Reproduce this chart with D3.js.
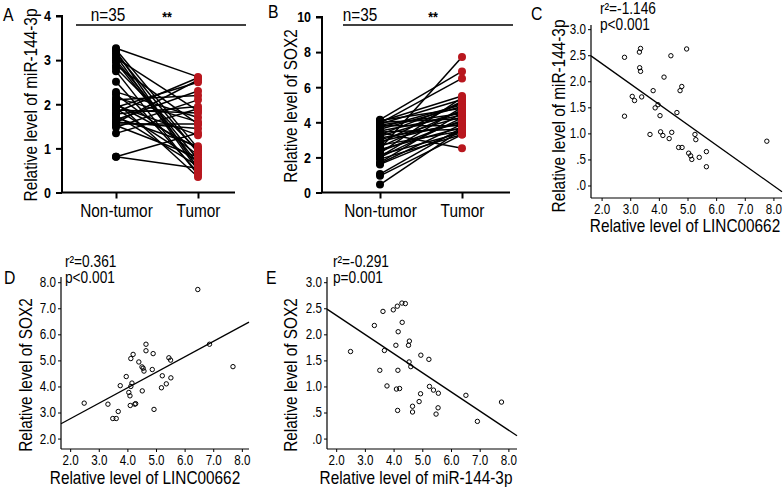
<!DOCTYPE html>
<html><head><meta charset="utf-8">
<script src="https://cdn.jsdelivr.net/npm/d3@7"></script>
<style>body{margin:0;background:#fff}svg{display:block}</style>
</head><body>
<svg id="fig" width="784" height="487"></svg>
<script>
// ---------- DATA ----------
const pairCategories = ["Non-tumor", "Tumor"];
const aTicks = [0, 1, 2, 3, 4];
const aNonTumor = [3.27,3.24,3.2,3.15,3.1,3.05,3.0,2.95,2.88,2.82,2.75,2.51,2.28,2.22,2.15,2.1,2.05,2.0,1.97,1.93,1.9,1.87,1.82,1.78,1.75,1.7,1.65,1.6,1.58,1.55,1.52,1.48,1.34,0.81,0.81];
const aTumor    = [2.62,1.0,0.55,0.9,0.5,1.85,0.75,0.65,1.55,0.95,0.4,0.45,1.7,0.85,1.6,2.2,0.35,1.0,1.3,2.5,0.7,1.8,2.6,1.95,0.6,1.05,2.3,1.45,2.55,1.55,0.8,2.1,1.9,1.35,0.55];
const bTicks = [0, 2, 4, 6, 8, 10];
const bNonTumor = [4.15,4.1,4.05,4.0,3.95,3.9,3.85,3.8,3.7,3.6,3.5,3.45,3.4,3.3,3.2,3.1,3.0,2.9,2.8,2.7,2.6,2.5,2.45,2.35,2.25,2.15,2.05,2.0,1.9,1.7,1.65,1.6,1.05,0.95,0.45];
const bTumor    = [6.9,4.8,5.5,4.2,6.5,5.3,4.5,3.8,5.0,4.9,4.4,3.6,2.52,5.1,4.6,3.9,4.3,4.0,5.2,3.5,4.7,7.72,3.7,4.1,5.4,3.4,4.85,4.25,3.3,4.55,3.9,3.55,3.7,3.3,3.6];

const cX = [2.80,3.32,3.36,4.42,4.97,3.33,3.36,4.18,4.80,4.74,3.80,3.07,3.15,3.40,2.80,3.97,3.87,4.04,4.63,3.69,4.06,4.14,4.45,4.36,5.26,5.29,4.69,4.81,5.04,5.11,5.15,5.41,5.66,5.66,7.77];
const cY = [2.46,2.56,2.63,2.49,2.62,2.26,2.19,2.08,1.90,1.82,1.82,1.71,1.63,1.70,1.33,1.55,1.49,1.34,1.40,0.98,1.03,0.96,1.02,0.90,0.98,0.88,0.73,0.73,0.62,0.57,0.50,0.54,0.65,0.36,0.85];
const cFit = {slope: -0.391, intercept: 3.125};

const dX = [6.46,2.49,3.32,3.49,3.61,3.68,3.75,3.96,4.05,4.09,4.10,4.26,4.29,4.12,4.16,4.12,4.20,4.40,4.51,4.55,4.58,4.52,4.65,4.65,4.90,4.87,4.93,5.22,5.19,5.36,5.52,5.45,5.51,6.87,7.69];
const dY = [7.72,3.36,3.32,2.77,2.77,3.04,4.03,4.38,3.77,3.64,3.27,3.32,3.34,4.00,4.13,5.07,5.23,4.94,4.75,4.70,4.59,3.83,5.62,5.37,5.26,4.65,3.12,4.41,3.95,4.10,4.33,5.10,5.01,5.62,4.76];
const dFit = {slope: 0.594, intercept: 1.57};

const eX = [2.50,3.33,3.63,3.68,3.52,3.77,3.99,4.13,4.29,4.41,4.30,4.16,4.08,4.52,4.55,4.15,4.10,4.21,4.14,4.54,4.60,4.66,4.66,4.89,4.94,4.95,5.23,5.25,5.39,5.56,5.55,5.48,6.52,6.92,7.76];
const eY = [1.67,2.17,2.44,1.69,1.31,1.01,2.47,2.54,2.60,2.59,2.23,2.05,1.79,1.79,1.87,1.31,0.95,0.96,0.54,1.47,1.38,0.62,0.51,0.71,0.86,1.60,1.52,1.00,0.93,0.87,0.59,0.47,0.83,0.33,0.70];
const eFit = {slope: -0.367, intercept: 3.10};

const scatterXTicks = [2,3,4,5,6,7,8];
const cYTicks = [0,0.5,1,1.5,2,2.5,3];
const dYTicks = [2,3,4,5,6,7,8];
const eYTicks = [0,0.5,1,1.5,2,2.5,3];

// ---------- DRAW ----------
const FONT = "'Liberation Sans',Arial,sans-serif";
const RED = "#b8171e";
const SQUEEZE = 0.83;
const svg = d3.select("#fig").style("font-family", FONT);

function letter(t, x, y){
  svg.append("text").attr("x",x).attr("y",y).attr("font-size",19).text(t);
}

function pairedPanel(o){
  const g = svg.append("g");
  const y = d3.scaleLinear().domain(o.yDomain).range([o.bottom, o.top]);
  const x = d3.scalePoint().domain(pairCategories).range([o.xNT, o.xT]);
  o.nt.forEach((v,i)=>{
    g.append("line").attr("x1",x(pairCategories[0])).attr("y1",y(v))
      .attr("x2",x(pairCategories[1])).attr("y2",y(o.t[i]))
      .attr("stroke","#000").attr("stroke-width",1.5);
  });
  g.selectAll(".nt").data(o.nt).enter().append("circle")
    .attr("cx",x(pairCategories[0])).attr("cy",d=>y(d)).attr("r",4).attr("fill","#000");
  g.selectAll(".t").data(o.t).enter().append("circle")
    .attr("cx",x(pairCategories[1])).attr("cy",d=>y(d)).attr("r",4).attr("fill",RED);
  const ya = g.append("g").attr("transform",`translate(${o.left},0)`)
    .call(d3.axisLeft(y).tickValues(o.ticks).tickSize(6).tickPadding(5).tickFormat(d3.format("d")));
  ya.select(".domain").attr("stroke-width",2).attr("d",`M-6,${y(o.yDomain[1])}H0V${o.bottom}`);
  ya.selectAll(".tick line").attr("stroke-width",2);
  ya.selectAll("text").attr("font-size",15).attr("font-weight","bold").attr("font-family",FONT).attr("fill","#000");
  const xa = g.append("g").attr("transform",`translate(0,${o.bottom})`)
    .call(d3.axisBottom(x).tickSize(6).tickPadding(5));
  xa.select(".domain").attr("stroke-width",2).attr("d",`M${o.left},0H${o.right}`);
  xa.selectAll(".tick line").attr("stroke-width",2);
  xa.selectAll("text").attr("font-size",18.5).attr("font-family",FONT).attr("fill","#000");
  g.append("line").attr("x1",o.brL).attr("x2",o.brR).attr("y1",25).attr("y2",25).attr("stroke","#000").attr("stroke-width",1.5);
  g.append("text").attr("x",o.nX).attr("y",21).attr("text-anchor","middle").attr("font-size",18.5).text("n=35");
  g.append("text").attr("x",o.sX).attr("y",22).attr("text-anchor","middle").attr("font-size",15).attr("font-weight","bold").text("**");
  g.append("text").attr("transform",`translate(${o.titleX},${o.titleY}) rotate(-90)`)
    .attr("text-anchor","middle").attr("font-size",18.5).text(o.yTitle);
}

function scatterPanel(o){
  const g = svg.append("g");
  const x = d3.scaleLinear().domain(o.xDomain).range([o.left, o.right]);
  const y = d3.scaleLinear().domain(o.yDomain).range([o.bottom, o.top]);
  const fmt = d=> { const s = d3.format(".1f")(d); return s.startsWith("0.") ? s.slice(1) : s; };
  const ya = g.append("g").attr("transform",`translate(${o.left},0)`)
    .call(d3.axisLeft(y).tickValues(o.yTicks).tickSize(3).tickPadding(2).tickFormat(fmt));
  ya.select(".domain").attr("d",`M0,${o.top}V${o.bottom}`).attr("stroke-width",1.2);
  ya.selectAll("text").attr("font-size",14).attr("font-family",FONT).attr("fill","#000");
  const xa = g.append("g").attr("transform",`translate(0,${o.bottom})`)
    .call(d3.axisBottom(x).tickValues(scatterXTicks).tickSize(3).tickPadding(3).tickFormat(d3.format(".1f")));
  xa.select(".domain").attr("d",`M${o.left},0H${o.right}`).attr("stroke-width",1.2);
  xa.selectAll("text").attr("font-size",14).attr("font-family",FONT).attr("fill","#000");
  const x0 = o.xDomain[0], x1 = o.xDomain[1];
  g.append("line").attr("x1",x(x0)).attr("y1",y(o.fit.intercept+o.fit.slope*x0))
    .attr("x2",x(x1)).attr("y2",y(o.fit.intercept+o.fit.slope*x1))
    .attr("stroke","#000").attr("stroke-width",1.3);
  g.selectAll("circle").data(o.xs).enter().append("circle")
    .attr("cx",d=>x(d)).attr("cy",(d,i)=>y(o.ys[i])).attr("r",2.2)
    .attr("fill","none").attr("stroke","#000").attr("stroke-width",1);
  g.append("text").attr("x",o.annX).attr("y",o.annY).attr("font-size",16.5).text(o.ann1);
  g.append("text").attr("x",o.annX).attr("y",o.annY+16).attr("font-size",16.5).text(o.ann2);
  g.append("text").attr("transform",`translate(${o.yTitleX},${o.yTitleY}) rotate(-90)`)
    .attr("text-anchor","middle").attr("font-size",18.5).text(o.yTitle);
  g.append("text").attr("x",o.xTitleX).attr("y",o.xTitleY).attr("text-anchor","middle")
    .attr("font-size",18.5).text(o.xTitle);
}

pairedPanel({yDomain:[0,4], ticks:aTicks, nt:aNonTumor, t:aTumor, top:16, bottom:192.5, left:62, right:235,
  xNT:116, xT:198, brL:76, brR:246, nX:108, sX:167, titleX:37, titleY:105, yTitle:"Relative level of miR-144-3p"});
pairedPanel({yDomain:[0,10], ticks:bTicks, nt:bNonTumor, t:bTumor, top:17, bottom:192.5, left:322, right:510,
  xNT:380, xT:462, brL:343, brR:513, nX:360, sX:433, titleX:297, titleY:106, yTitle:"Relative level of SOX2"});

scatterPanel({xDomain:[1.63,8.3], yDomain:[-0.24,3.08], left:591, right:782, top:25, bottom:198,
  xs:cX, ys:cY, fit:cFit, yTicks:cYTicks, annX:600, annY:14, ann1:"r²=-1.146", ann2:"p<0.001",
  yTitleX:565, yTitleY:116, yTitle:"Relative level of miR-144-3p", xTitleX:685, xTitleY:232, xTitle:"Relative level of LINC00662"});
scatterPanel({xDomain:[1.68,8.25], yDomain:[1.6,8.2], left:61, right:249, top:277, bottom:449,
  xs:dX, ys:dY, fit:dFit, yTicks:dYTicks, annX:65, annY:267, ann1:"r²=0.361", ann2:"p<0.001",
  yTitleX:32, yTitleY:375, yTitle:"Relative level of SOX2", xTitleX:145, xTitleY:484, xTitle:"Relative level of LINC00662"});
scatterPanel({xDomain:[1.68,8.3], yDomain:[-0.2,3.1], left:327, right:517, top:277, bottom:449,
  xs:eX, ys:eY, fit:eFit, yTicks:eYTicks, annX:333, annY:267, ann1:"r²=-0.291", ann2:"p=0.001",
  yTitleX:297, yTitleY:375, yTitle:"Relative level of SOX2", xTitleX:416, xTitleY:484, xTitle:"Relative level of miR-144-3p"});

letter("A",3,21); letter("B",268,18); letter("C",531,20); letter("D",4,284); letter("E",266,284);

// the reference figure uses a condensed face: squeeze every text run to match
svg.selectAll("text").each(function(){
  const w = this.getComputedTextLength();
  if (w > 0) {
    this.setAttribute("textLength", (w*SQUEEZE).toFixed(2));
    this.setAttribute("lengthAdjust","spacingAndGlyphs");
  }
});
</script>
</body></html>
